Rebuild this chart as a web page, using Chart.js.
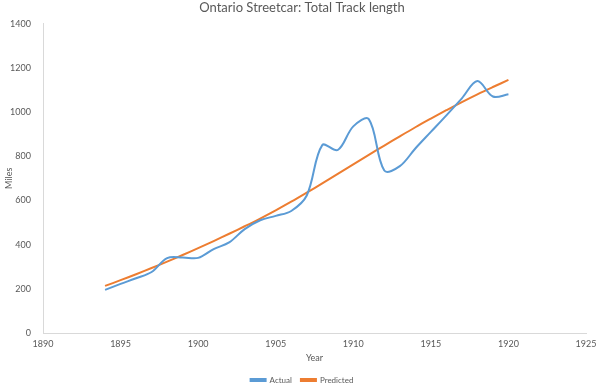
<!DOCTYPE html>
<html>
<head>
<meta charset="utf-8">
<script src="https://cdn.jsdelivr.net/npm/chart.js"></script>
<style>
  body { margin: 0; background: #fff; }
  #wrap { width: 600px; height: 391px; position: relative; }
</style>
<script>
  // years on the x axis
  var years = [1894, 1895, 1896, 1897, 1898, 1899, 1900, 1901, 1902, 1903, 1904, 1905, 1906,
               1907, 1908, 1909, 1910, 1911, 1912, 1913, 1914, 1915, 1916, 1917, 1918, 1919, 1920];
  // total track length, miles
  var actualMiles = [195, 222, 248, 276, 339, 342, 340, 380, 410, 470, 510, 530, 552,
                     622, 850, 828, 935, 968, 735, 755, 835, 910, 985, 1062, 1140, 1070, 1080];
  var predictedMiles = [213, 239, 266, 294, 323, 353, 384, 416, 449, 483, 518, 555, 594,
                        635, 677, 720, 763, 806, 848, 890, 931, 970, 1008, 1045, 1080, 1113, 1145];
  var seriesNames = ["Actual", "Predicted"];
  var xTicks = [1890, 1925, 5];
  var yTicks = [0, 1400, 200];
</script>
</head>
<body>
<div id="wrap"><canvas id="chart"></canvas></div>
<script>
  function points(vals) {
    return years.map(function (y, i) { return { x: y, y: vals[i] }; });
  }

  var grey = "#595959";
  var fam = "Lato, 'Open Sans', sans-serif";

  new Chart(document.getElementById("chart"), {
    type: "line",
    data: {
      datasets: [
        {
          label: seriesNames[0],
          data: points(actualMiles),
          borderColor: "#5B9BD5",
          backgroundColor: "#5B9BD5",
          borderWidth: 2,
          pointRadius: 0,
          tension: 0.35
        },
        {
          label: seriesNames[1],
          data: points(predictedMiles),
          borderColor: "#ED7D31",
          backgroundColor: "#ED7D31",
          borderWidth: 2,
          pointRadius: 0,
          tension: 0.35
        }
      ]
    },
    options: {
      responsive: true,
      maintainAspectRatio: false,
      animation: false,
      layout: { padding: { top: 0, right: 0, left: 4, bottom: -3 } },
      plugins: {
        title: {
          display: true,
          text: "Ontario Streetcar: Total Track length",
          color: grey,
          font: { family: fam, size: 13, weight: "normal" },
          padding: { top: 0, bottom: 8 }
        },
        legend: {
          position: "bottom",
          labels: {
            color: grey,
            font: { family: fam, size: 8 },
            boxWidth: 15,
            boxHeight: 2,
            padding: 9
          }
        },
        tooltip: { enabled: false }
      },
      scales: {
        x: {
          type: "linear",
          min: xTicks[0],
          max: xTicks[1],
          grid: { display: false, drawTicks: false },
          border: { color: "#d9d9d9", width: 1 },
          afterFit: function (scale) {
            scale.height = 34;
            scale.paddingRight = 14;
          },
          ticks: {
            stepSize: xTicks[2],
            color: grey,
            font: { family: fam, size: 9 },
            padding: 6,
            maxRotation: 0,
            callback: function (v) { return String(v); }
          },
          title: {
            display: true,
            text: "Year",
            color: grey,
            font: { family: fam, size: 9 },
            padding: { top: 3, bottom: 3.5 }
          }
        },
        y: {
          min: yTicks[0],
          max: yTicks[1],
          grid: { display: false, drawTicks: false },
          border: { color: "#d9d9d9", width: 1 },
          afterFit: function (scale) {
            scale.width = 39;
          },
          ticks: {
            stepSize: yTicks[2],
            color: grey,
            font: { family: fam, size: 9 },
            padding: 12,
            callback: function (v) { return String(v); }
          },
          title: {
            display: true,
            text: "Miles",
            color: grey,
            font: { family: fam, size: 9 },
            padding: { top: 0, bottom: 1 }
          }
        }
      }
    }
  });
</script>
</body>
</html>
